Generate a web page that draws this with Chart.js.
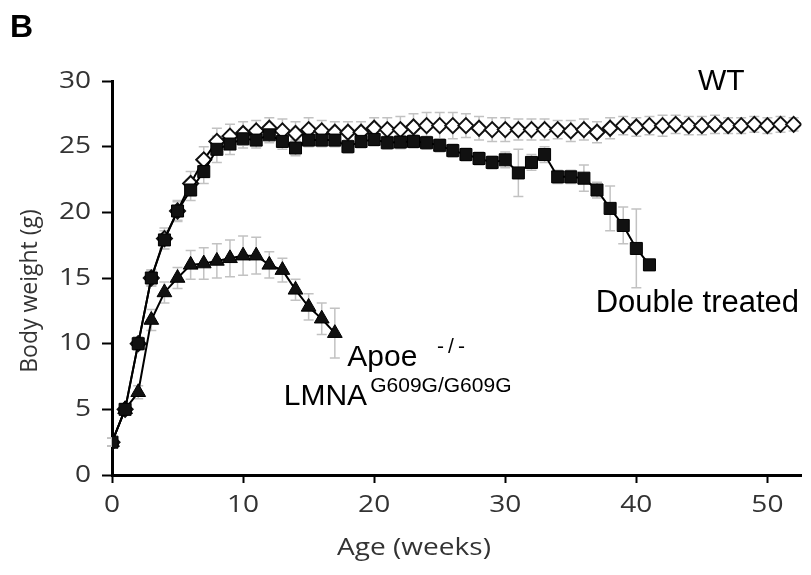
<!DOCTYPE html>
<html><head><meta charset="utf-8">
<script src="https://cdn.jsdelivr.net/npm/chart.js@4.4.1/dist/chart.umd.min.js"></script>
<style>html,body{margin:0;padding:0;background:#fff;} #wrap{width:811px;height:575px;position:relative;}</style>
</head><body><div id="wrap"><canvas id="c" width="811" height="575"></canvas></div>
<script>
// ---- data ----
const wtWeeks = [0,1,2,3,4,5,6,7,8,9,10,11,12,13,14,15,16,17,18,19,20,21,22,23,24,25,26,27,28,29,30,31,32,33,34,35,36,37,38,39,40,41,42,43,44,45,46,47,48,49,50,51,52];
const wtWeight = [2.5,5.0,10.0,15.0,18.0,20.1,22.2,24.0,25.4,25.8, 26.0,26.2,26.4,26.2,26.0,26.3,26.2,26.1,26.1,26.1, 26.4,26.3,26.3,26.5,26.6,26.6,26.6,26.6,26.4,26.3, 26.3,26.3,26.3,26.3,26.3,26.2,26.3,26.1,26.4,26.6, 26.5,26.6,26.6,26.7,26.6,26.6,26.7,26.6,26.6,26.7, 26.6,26.7,26.7];
const wtErr = [0.3,0.4,0.5,0.6,0.8,0.8,0.9,1.0,1.0,0.9, 0.9,0.8,0.8,0.9,0.9,0.9,0.8,0.8,0.8,0.8, 0.8,0.9,1.0,1.0,1.0,1.0,1.0,0.9,0.9,0.9, 0.9,0.8,0.8,0.8,0.7,0.8,0.8,0.8,0.8,0.7, 0.7,0.7,0.8,0.7,0.7,0.7,0.7,0.6,0.6,0.6, 0.6,0.6,0.5];

const dtWeeks = [0,1,2,3,4,5,6,7,8,9,10,11,12,13,14,15,16,17,18,19,20,21,22,23,24,25,26,27,28,29,30,31,32,33,34,35,36,37,38,39,40,41];
const dtWeight = [2.5,5.0,10.0,15.0,17.9,20.1,21.7,23.1,24.8,25.2, 25.6,25.5,25.9,25.4,24.9,25.5,25.5,25.5,25.0,25.4, 25.55,25.3,25.35,25.4,25.3,25.1,24.7,24.4,24.1,23.8, 24.0,23.0,23.8,24.4,22.7,22.7,22.6,21.7,20.3,19.0, 17.25,16.0];
const dtErr = [0.3,0.4,0.5,0.6,0.7,0.7,0.8,0.9,1.0,0.8, 0.7,0.6,0.6,0.6,0.6,0.5,0.5,0.5,0.5,0.5, 0.5,0.5,0.5,0.5,0.5,0.5,0.5,0.5,0.5,0.5, 0.6,1.8,0.6,0.6,0.5,0.5,1.0,0.6,1.7,1.4, 3.0,0];

const apoeWeeks = [0,1,2,3,4,5,6,7,8,9,10,11,12,13,14,15,16,17];
const apoeWeight = [2.5,5.0,6.3,11.8,13.9,15.0,16.0,16.1,16.3,16.5,16.7,16.7,16.0,15.6,14.1,12.8,11.9,10.8];
const apoeErr = [0.3,0.4,0.5,0.8,0.8,0.8,1.1,1.2,1.3,1.4,1.5,1.4,1.0,0.9,0.8,1.0,1.2,1.9];

const xTicks = [0,10,20,30,40,50];
const yTicks = [0,5,10,15,20,25,30];
const xTitle = 'Age (weeks)';
const yTitle = 'Body weight (g)';

const toPts = (xs, ys) => xs.map((x, i) => ({x: x, y: ys[i]}));

const axisFontStr = "23px 'Open Sans', sans-serif";
const axisColor = '#333333';
const STRETCH = 1.22;

const errorBars = {
  id: 'errorBars',
  beforeDatasetsDraw(chart) {
    const ctx = chart.ctx, xs = chart.scales.x, ys = chart.scales.y;
    ctx.save();
    ctx.strokeStyle = '#c2c2c2';
    ctx.lineWidth = 1.5;
    chart.data.datasets.forEach(ds => {
      ds.data.forEach((p, i) => {
        const e = ds.errors[i];
        if (!e) return;
        const px = xs.getPixelForValue(p.x);
        const top = ys.getPixelForValue(p.y + e);
        const bot = ys.getPixelForValue(p.y - e);
        ctx.beginPath();
        ctx.moveTo(px, top); ctx.lineTo(px, bot);
        ctx.moveTo(px - 5, top); ctx.lineTo(px + 5, top);
        ctx.moveTo(px - 5, bot); ctx.lineTo(px + 5, bot);
        ctx.stroke();
      });
    });
    ctx.restore();
  }
};

function stretchText(ctx, t, x, y, align) {
  ctx.save();
  ctx.translate(x, y);
  ctx.scale(STRETCH, 1);
  ctx.textAlign = align;
  ctx.fillText(t, 0, 0);
  ctx.restore();
}

const axisText = {
  id: 'axisText',
  afterDraw(chart) {
    const ctx = chart.ctx, xs = chart.scales.x, ys = chart.scales.y;
    ctx.save();
    ctx.fillStyle = axisColor;
    ctx.font = axisFontStr;
    ctx.textBaseline = 'middle';
    xTicks.forEach(v => stretchText(ctx, String(v), xs.getPixelForValue(v), 505, 'center'));
    yTicks.forEach(v => stretchText(ctx, String(v), 91, ys.getPixelForValue(v), 'right'));
    stretchText(ctx, xTitle, 414, 548, 'center');
    ctx.save();
    ctx.translate(30, 291);
    ctx.rotate(-Math.PI / 2);
    ctx.textAlign = 'center';
    ctx.fillText(yTitle, 0, 0);
    ctx.restore();
    ctx.restore();
  }
};

const labels = {
  id: 'labels',
  afterDraw(chart) {
    const ctx = chart.ctx, xs = chart.scales.x, ys = chart.scales.y;
    const X = v => xs.getPixelForValue(v), Y = v => ys.getPixelForValue(v);
    ctx.save();
    ctx.fillStyle = '#000';
    ctx.textBaseline = 'alphabetic';
    ctx.textAlign = 'left';
    ctx.font = "bold 32px 'Liberation Sans', Arial, sans-serif";
    ctx.fillText('B', 10, 37);
    ctx.font = "30px 'Liberation Sans', Arial, sans-serif";
    ctx.fillText('WT', X(44.7), Y(29.3));
    ctx.fillText('Apoe', X(17.95), Y(8.3));
    ctx.fillText('LMNA', X(13.1), Y(5.33));
    ctx.font = "31px 'Liberation Sans', Arial, sans-serif";
    ctx.fillText('Double treated', X(36.9), Y(12.44));
    ctx.font = "21px 'Liberation Sans', Arial, sans-serif";
    ctx.fillText('G609G/G609G', X(19.7), Y(6.3));
    ctx.letterSpacing = '4px';
    ctx.fillText('-/-', X(24.8), Y(9.3));
    ctx.restore();
  }
};

new Chart(document.getElementById('c'), {
  type: 'line',
  data: {
    datasets: [
      {label: 'Double treated', data: toPts(dtWeeks, dtWeight), errors: dtErr,
       borderColor: '#000', borderWidth: 2, backgroundColor: '#000',
       pointStyle: 'rect', pointRadius: 8.5, pointBorderWidth: 1, pointBackgroundColor: '#111', pointBorderColor: '#000', tension: 0},
      {label: 'Apoe-/- LMNA G609G/G609G', data: toPts(apoeWeeks, apoeWeight), errors: apoeErr,
       borderColor: '#000', borderWidth: 2, backgroundColor: '#000',
       pointStyle: 'triangle', pointRadius: 8.5, pointBorderWidth: 1, pointBackgroundColor: '#111', pointBorderColor: '#000', tension: 0},
      {label: 'WT', data: toPts(wtWeeks, wtWeight), errors: wtErr,
       borderColor: '#000', borderWidth: 2, backgroundColor: '#fff',
       pointStyle: 'rectRot', pointRadius: 7.5, pointBorderWidth: 2, pointBackgroundColor: '#fff', pointBorderColor: '#111', tension: 0}
    ]
  },
  options: {
    responsive: false,
    animation: false,
    events: [],
    layout: {padding: {left: 0, top: 81, right: 6, bottom: 0}},
    plugins: {legend: {display: false}, tooltip: {enabled: false}, title: {display: false}},
    scales: {
      x: {
        type: 'linear', min: 0, max: 52.6,
        afterFit: s => { s.height = 100; },
        afterBuildTicks: s => { s.ticks = xTicks.map(v => ({value: v})); },
        ticks: {display: false, includeBounds: false},
        grid: {display: true, drawOnChartArea: false, drawTicks: true, tickLength: 8, tickWidth: 2, tickColor: '#000', color: '#000'},
        border: {display: true, color: '#000', width: 3},
        title: {display: false}
      },
      y: {
        type: 'linear', min: 0, max: 30,
        afterFit: s => { s.width = 112; },
        afterBuildTicks: s => { s.ticks = yTicks.map(v => ({value: v})); },
        ticks: {display: false},
        grid: {display: true, drawOnChartArea: false, drawTicks: true, tickLength: 10, tickWidth: 2, tickColor: '#000', color: '#000'},
        border: {display: true, color: '#000', width: 3},
        title: {display: false}
      }
    }
  },
  plugins: [errorBars, axisText, labels]
});
</script>
</body></html>
